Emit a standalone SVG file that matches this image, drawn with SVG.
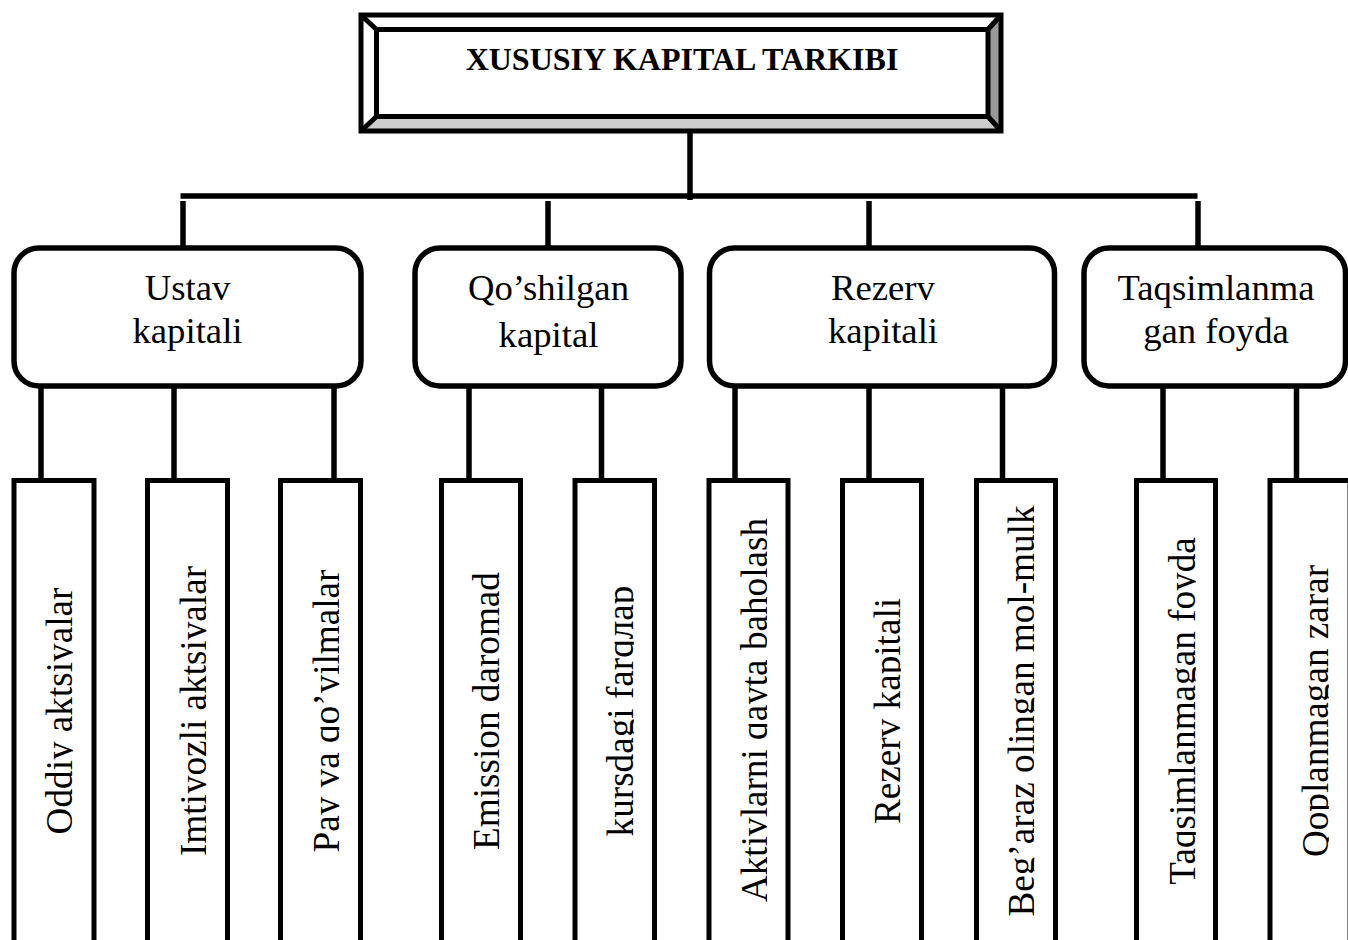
<svg xmlns="http://www.w3.org/2000/svg" width="1348" height="940" viewBox="0 0 1348 940">
<style>
.ln{stroke:#000;stroke-width:5.5;fill:none;stroke-linecap:butt}
.rb{fill:#fff;stroke:#000;stroke-width:5.5}
.lf{fill:#fff;stroke:#000;stroke-width:5}
.t2{font-family:"Liberation Serif","Times New Roman",serif;font-size:36.7px;fill:#000;text-anchor:middle}
.t3{font-family:"Liberation Serif","Times New Roman",serif;font-size:37.2px;fill:#000;text-anchor:middle}
.tt{font-family:"Liberation Serif","Times New Roman",serif;font-size:32px;font-weight:bold;fill:#000;text-anchor:middle}
</style>
<defs>
<clipPath id="desc"><rect x="-400" y="-60" width="800" height="60.8"/></clipPath>
</defs>
<rect width="1348" height="940" fill="#fff"/>

<g id="connectors">
<line class="ln" x1="690" y1="131" x2="690" y2="200"/>
<line class="ln" x1="180.5" y1="196" x2="1197.5" y2="196"/>
<line class="ln" x1="183" y1="201" x2="183" y2="248"/>
<line class="ln" x1="548" y1="201" x2="548" y2="248"/>
<line class="ln" x1="869" y1="201" x2="869" y2="248"/>
<line class="ln" x1="1198" y1="201" x2="1198" y2="248"/>
<line class="ln" x1="41" y1="386" x2="41" y2="480"/>
<line class="ln" x1="174" y1="386" x2="174" y2="480"/>
<line class="ln" x1="334" y1="386" x2="334" y2="480"/>
<line class="ln" x1="469" y1="386" x2="469" y2="480"/>
<line class="ln" x1="601.5" y1="386" x2="601.5" y2="480"/>
<line class="ln" x1="735" y1="386" x2="735" y2="480"/>
<line class="ln" x1="869" y1="386" x2="869" y2="480"/>
<line class="ln" x1="1002.5" y1="386" x2="1002.5" y2="480"/>
<line class="ln" x1="1163" y1="386" x2="1163" y2="480"/>
<line class="ln" x1="1296.5" y1="386" x2="1296.5" y2="480"/>
</g>

<g id="title">
<rect x="361" y="15" width="640" height="116" fill="#fff"/>
<polygon points="361,131 1001,131 988,116.5 376.5,116.5" fill="#cccccc"/>
<polygon points="1001,15 1001,131 988,116.5 988,29.5" fill="#999999"/>
<rect x="361" y="15" width="640" height="116" fill="none" stroke="#000" stroke-width="5"/>
<rect x="376.5" y="29.5" width="611.5" height="87" fill="none" stroke="#000" stroke-width="5"/>
<path d="M361,15 L376.5,29.5 M1001,15 L988,29.5 M361,131 L376.5,116.5 M1001,131 L988,116.5" stroke="#000" stroke-width="5" fill="none"/>
<text class="tt" x="682" y="70">XUSUSIY KAPITAL TARKIBI</text>
</g>

<g id="n-ustav">
<rect class="rb" x="14" y="248" width="347" height="138" rx="25"/>
<text class="t2" x="187.5" y="300">Ustav</text>
<text class="t2" x="187.5" y="343">kapitali</text>
</g>
<g id="n-qoshilgan">
<rect class="rb" x="415" y="248" width="266" height="138" rx="25"/>
<text class="t2" x="548.5" y="300">Qo’shilgan</text>
<text class="t2" x="548.5" y="347">kapital</text>
</g>
<g id="n-rezerv">
<rect class="rb" x="709.5" y="248" width="345" height="138" rx="25"/>
<text class="t2" x="883" y="300">Rezerv</text>
<text class="t2" x="883" y="343">kapitali</text>
</g>
<g id="n-taqsim">
<rect class="rb" x="1084" y="248" width="261.5" height="138" rx="25"/>
<text class="t2" x="1216" y="300">Taqsimlanma</text>
<text class="t2" x="1216" y="343">gan foyda</text>
</g>

<g id="l-oddiy">
<rect class="lf" x="14" y="480.5" width="80" height="480"/>
<text class="t3" transform="translate(72,711) rotate(-90)" clip-path="url(#desc)">Oddiy aktsiyalar</text>
</g>
<g id="l-imtiyozli">
<rect class="lf" x="147.5" y="480.5" width="80" height="480"/>
<text class="t3" transform="translate(205.5,711) rotate(-90)" clip-path="url(#desc)">Imtiyozli aktsiyalar</text>
</g>
<g id="l-pay">
<rect class="lf" x="280.5" y="480.5" width="80" height="480"/>
<text class="t3" transform="translate(338.5,711) rotate(-90)" clip-path="url(#desc)">Pay va qo’yilmalar</text>
</g>
<g id="l-emission">
<rect class="lf" x="441.5" y="480.5" width="79" height="480"/>
<text class="t3" transform="translate(499,711) rotate(-90)" clip-path="url(#desc)">Emission daromad</text>
</g>
<g id="l-kurs">
<rect class="lf" x="575" y="480.5" width="79.5" height="480"/>
<text class="t3" transform="translate(633,711) rotate(-90)" clip-path="url(#desc)">kursdagi farqлар</text>
</g>
<g id="l-aktiv">
<rect class="lf" x="709" y="480.5" width="79" height="480"/>
<text class="t3" transform="translate(766.5,710) rotate(-90)" clip-path="url(#desc)">Aktivlarni qayta baholash</text>
</g>
<g id="l-rezerv">
<rect class="lf" x="842.5" y="480.5" width="79" height="480"/>
<text class="t3" transform="translate(900,711) rotate(-90)" clip-path="url(#desc)">Rezerv kapitali</text>
</g>
<g id="l-begaraz">
<rect class="lf" x="976.5" y="480.5" width="79" height="480"/>
<text class="t3" transform="translate(1033.5,711) rotate(-90)" clip-path="url(#desc)">Beg’araz olingan mol-mulk</text>
</g>
<g id="l-taqsim">
<rect class="lf" x="1136.5" y="480.5" width="79" height="480"/>
<text class="t3" transform="translate(1195,711) rotate(-90)" clip-path="url(#desc)">Taqsimlanmagan foyda</text>
</g>
<g id="l-qoplan">
<rect class="lf" x="1270" y="480.5" width="80" height="480"/>
<text class="t3" transform="translate(1328,711) rotate(-90)" clip-path="url(#desc)">Qoplanmagan zarar</text>
</g>
</svg>
